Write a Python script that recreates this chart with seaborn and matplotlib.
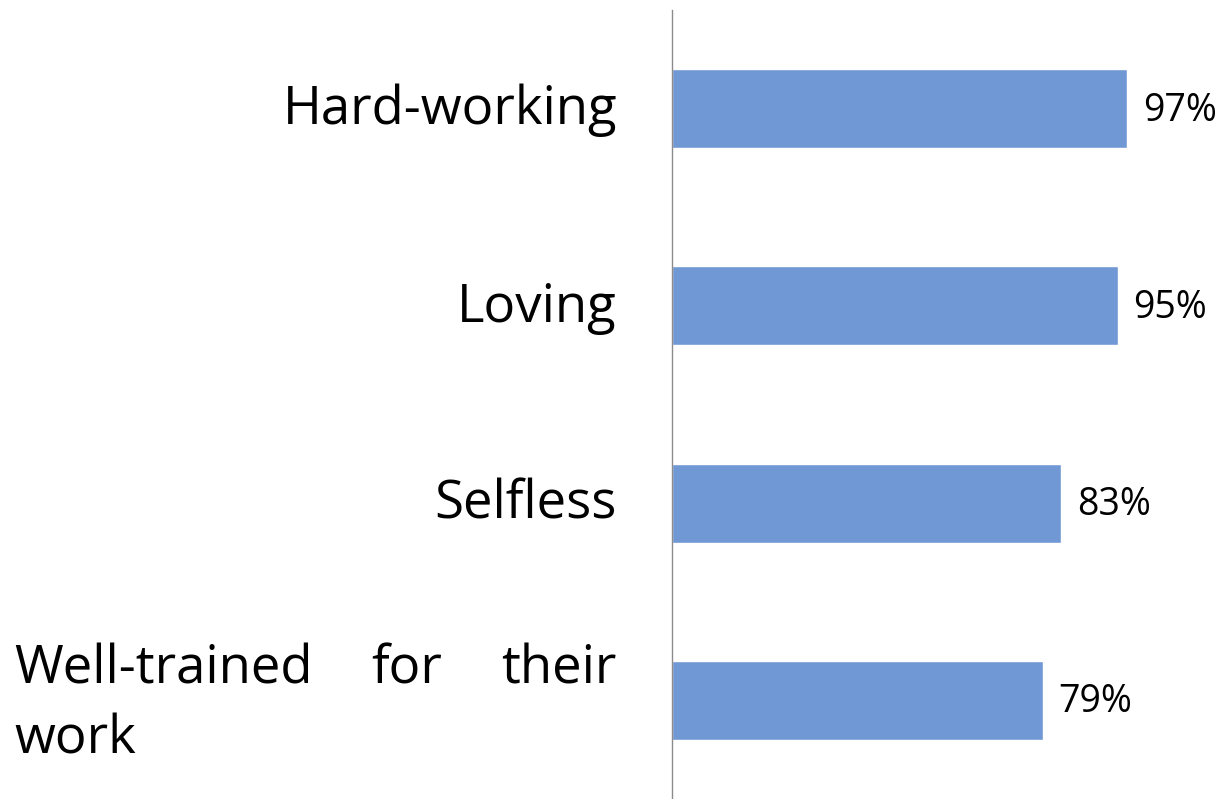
"""
Horizontal bar chart: perceived traits (share of respondents)
"""

import matplotlib.pyplot as plt
import seaborn as sns
import pandas as pd
from matplotlib.transforms import offset_copy

# Data
traits = ['Hard-working', 'Loving', 'Selfless', 'Well-trained for their work']
shares = [97, 95, 83, 79]
value_labels = ['97%', '95%', '83%', '79%']

# Style
sns.set_style("white")
plt.rcParams['font.family'] = ['Open Sans', 'DejaVu Sans']
plt.rcParams['text.color'] = 'black'
bar_color = '#7098d4'

fig = plt.figure(figsize=(12.21, 7.99), dpi=100)
ax = fig.add_axes([672 / 1221, 0, 549 / 1221, 789 / 799])

df = pd.DataFrame({'trait': traits, 'share': shares})
sns.barplot(data=df, x='share', y='trait', color=bar_color, saturation=1,
            width=0.4, ax=ax)

ax.set_xlim(0, 117)
ax.set_ylim(len(traits) - 0.5, -0.5)
ax.set_xticks([])
ax.set_yticks([])
ax.set_xlabel('')
ax.set_ylabel('')
for side in ['top', 'right', 'bottom']:
    ax.spines[side].set_visible(False)
ax.spines['left'].set_color('#8c8c8c')
ax.spines['left'].set_linewidth(1)

# Value labels
for i, (v, lab) in enumerate(zip(shares, value_labels)):
    ax.text(v + 3.3, i + 0.01, lab, va='center', ha='left', fontsize=27, color='black')

# Category labels (right-aligned, last one justified over two lines)
label_size = 38
ytrans = ax.get_yaxis_transform()
right_pad = -55   # px from axis line
left_edge = -658  # px from axis line (left margin of the figure)

for i, t in enumerate(traits[:-1]):
    ax.text(0, i + 0.01, t, transform=offset_copy(ytrans, fig=fig, x=right_pad, units='dots'),
            ha='right', va='center', fontsize=label_size, color='black')

# justified first line + second line
last = len(traits) - 1
words = traits[-1].split()
line1, line2 = words[:3], words[3:]
fig.canvas.draw()
renderer = fig.canvas.get_renderer()
texts = []
for w in line1:
    t = ax.text(0, last, w, fontsize=label_size, ha='left', va='baseline', color='black',
                transform=offset_copy(ytrans, fig=fig, x=0, y=17, units='dots'))
    texts.append(t)
widths = [t.get_window_extent(renderer).width for t in texts]
gap = ((right_pad - left_edge) - sum(widths)) / (len(widths) - 1)
x = left_edge
for t, w in zip(texts, widths):
    t.set_transform(offset_copy(ytrans, fig=fig, x=x, y=17, units='dots'))
    x += w + gap
ax.text(0, last, ' '.join(line2), fontsize=label_size, ha='left', va='baseline', color='black',
        transform=offset_copy(ytrans, fig=fig, x=left_edge, y=-53, units='dots'))

plt.savefig('out.png', dpi=100)
plt.close()
